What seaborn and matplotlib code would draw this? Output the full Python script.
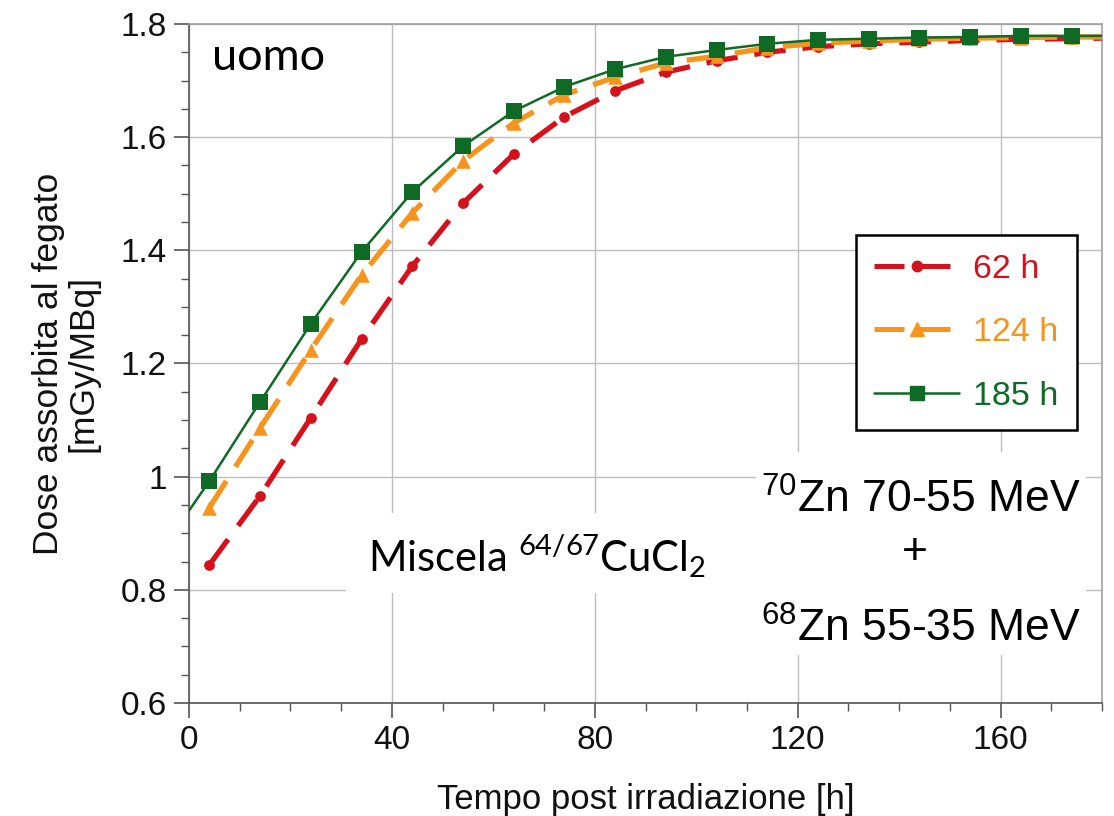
import numpy as np
import pandas as pd
import matplotlib
matplotlib.use("Agg")
import matplotlib.pyplot as plt
import seaborn as sns
from matplotlib.ticker import MultipleLocator, FuncFormatter
from matplotlib.lines import Line2D
from matplotlib.patches import Rectangle

# ---------------- data ----------------
t_marks = [4, 14, 24, 34, 44, 54, 64, 74, 84, 94, 104, 114, 124, 134, 144, 154, 164, 174]
dose_62h = [0.844, 0.966, 1.104, 1.243, 1.372, 1.483, 1.570, 1.636, 1.682, 1.715,
            1.735, 1.750, 1.760, 1.765, 1.768, 1.771, 1.773, 1.774]
dose_124h = [0.945, 1.086, 1.224, 1.356, 1.466, 1.558, 1.625, 1.675, 1.706, 1.731,
             1.743, 1.758, 1.766, 1.770, 1.773, 1.775, 1.776, 1.777]
dose_185h = [0.992, 1.132, 1.270, 1.397, 1.503, 1.584, 1.646, 1.689, 1.720, 1.742,
             1.754, 1.765, 1.772, 1.774, 1.776, 1.777, 1.779, 1.779]
# curve start / end visible in the picture
green_start = (0, 0.940)
end_t = 180
end_62h, end_124h, end_185h = 1.775, 1.777, 1.779

labels = ["62 h", "124 h", "185 h"]
x_ticks = [0, 40, 80, 120, 160]
y_ticks = [0.6, 0.8, 1.0, 1.2, 1.4, 1.6, 1.8]

RED, ORANGE, GREEN = "#D5121C", "#F7941D", "#0E6A24"

# ---------------- style ----------------
sns.set_theme(style="white")
plt.rcParams["font.family"] = ["Liberation Sans", "DejaVu Sans"]
plt.rcParams["text.color"] = "black"

fig = plt.figure(figsize=(11.14, 8.16), dpi=100)
ax = fig.add_axes([0.1697, 0.1385, 0.8196, 0.8321])

# ---------------- background boxes for annotations ----------------
ax.add_patch(Rectangle((0.172, 0.162), 0.453, 0.118, transform=ax.transAxes,
                       facecolor="white", edgecolor="none", zorder=1.5))
ax.add_patch(Rectangle((0.621, 0.071), 0.361, 0.299, transform=ax.transAxes,
                       facecolor="white", edgecolor="none", zorder=1.5))

# ---------------- lines ----------------
df62 = pd.DataFrame({"t": t_marks + [end_t], "d": dose_62h + [end_62h]})
df124 = pd.DataFrame({"t": t_marks + [end_t], "d": dose_124h + [end_124h]})
df185 = pd.DataFrame({"t": [green_start[0]] + t_marks + [end_t],
                      "d": [green_start[1]] + dose_185h + [end_185h]})

dash = (0, (6.0, 3.2))
sns.lineplot(data=df62, x="t", y="d", ax=ax, color=RED, lw=3.8,
             linestyle=dash, legend=False, zorder=3)
sns.lineplot(data=df124, x="t", y="d", ax=ax, color=ORANGE, lw=3.8,
             linestyle=dash, legend=False, zorder=3)
sns.lineplot(data=df185, x="t", y="d", ax=ax, color=GREEN, lw=1.8,
             legend=False, zorder=4)

mk = pd.DataFrame({"t": t_marks, "r": dose_62h, "o": dose_124h, "g": dose_185h})
sns.scatterplot(data=mk, x="t", y="r", ax=ax, marker="o", s=60, color=RED,
                edgecolor=RED, linewidth=0, zorder=5, legend=False)
sns.scatterplot(data=mk, x="t", y="o", ax=ax, marker="^", s=110, color=ORANGE,
                edgecolor=ORANGE, linewidth=0, zorder=5, legend=False)
sns.scatterplot(data=mk, x="t", y="g", ax=ax, marker="s", s=130, color=GREEN,
                edgecolor=GREEN, linewidth=0, zorder=6, legend=False)

# ---------------- axes ----------------
ax.set_xlim(0, 180)
ax.set_ylim(0.6, 1.8)
ax.xaxis.set_major_locator(MultipleLocator(40))
ax.xaxis.set_minor_locator(MultipleLocator(10))
ax.yaxis.set_major_locator(MultipleLocator(0.2))
ax.yaxis.set_minor_locator(MultipleLocator(0.05))
ax.yaxis.set_major_formatter(FuncFormatter(lambda v, p: f"{v:g}"))
ax.set_xticks(x_ticks)
ax.set_yticks(y_ticks)

ax.grid(True, which="major", color="#bdbdbd", lw=1.0, zorder=0)
ax.set_axisbelow(True)
ax.tick_params(which="major", direction="out", length=11, width=1.2,
               color="#555555", labelsize=24, labelcolor="#111111", pad=5,
               bottom=True, left=True)
ax.tick_params(which="minor", direction="out", length=5.5, width=1.0,
               color="#555555", bottom=True, left=True)
for s in ["left", "bottom"]:
    ax.spines[s].set_color("#555555")
    ax.spines[s].set_linewidth(1.2)
for s in ["top", "right"]:
    ax.spines[s].set_color("#a0a0a0")
    ax.spines[s].set_linewidth(1.2)

ax.set_xlabel("Tempo post irradiazione [h]", fontsize=25, color="#111111")
ax.xaxis.set_label_coords(0.5, -0.118)
ax.set_ylabel("Dose assorbita al fegato\n[mGy/MBq]", fontsize=25.5,
              color="#111111", linespacing=1.05)
ax.yaxis.set_label_coords(-0.098, 0.5)

# ---------------- annotations ----------------
ax.text(0.025, 0.932, "uomo", transform=ax.transAxes, fontsize=32.5,
        family="Lato", va="baseline", ha="left", color="black")
ax.text(0.196, 0.194, r"Miscela $\mathregular{^{64/67}}$CuCl$\mathregular{_2}$",
        transform=ax.transAxes, fontsize=30, family="Lato",
        va="baseline", ha="left", color="black", zorder=7)
ax.text(0.802, 0.280, r"$\mathregular{^{70}}$Zn 70-55 MeV", transform=ax.transAxes,
        fontsize=32, ha="center", va="baseline", color="black", zorder=7)
ax.text(0.795, 0.222, "+", transform=ax.transAxes, fontsize=32,
        ha="center", va="center", color="black", zorder=7)
ax.text(0.802, 0.090, r"$\mathregular{^{68}}$Zn 55-35 MeV", transform=ax.transAxes,
        fontsize=32, ha="center", va="baseline", color="black", zorder=7)

# ---------------- legend ----------------
handles = [
    Line2D([], [], color=RED, lw=3.6, linestyle=dash, marker="o", markersize=7.5),
    Line2D([], [], color=ORANGE, lw=3.6, linestyle=dash, marker="^", markersize=10),
    Line2D([], [], color=GREEN, lw=1.8, marker="s", markersize=10.5),
]
leg = ax.legend(handles, labels, loc="upper left", bbox_to_anchor=(0.730, 0.689),
                fontsize=24.5, frameon=True, fancybox=False, framealpha=1,
                edgecolor="black", handlelength=2.5, handletextpad=0.4,
                labelspacing=0.95, borderpad=0.55, borderaxespad=0)
leg.get_frame().set_linewidth(1.8)
leg.set_zorder(8)
for txt, c in zip(leg.get_texts(), [RED, ORANGE, GREEN]):
    txt.set_color(c)

fig.savefig("out.png", dpi=100, facecolor="white")
